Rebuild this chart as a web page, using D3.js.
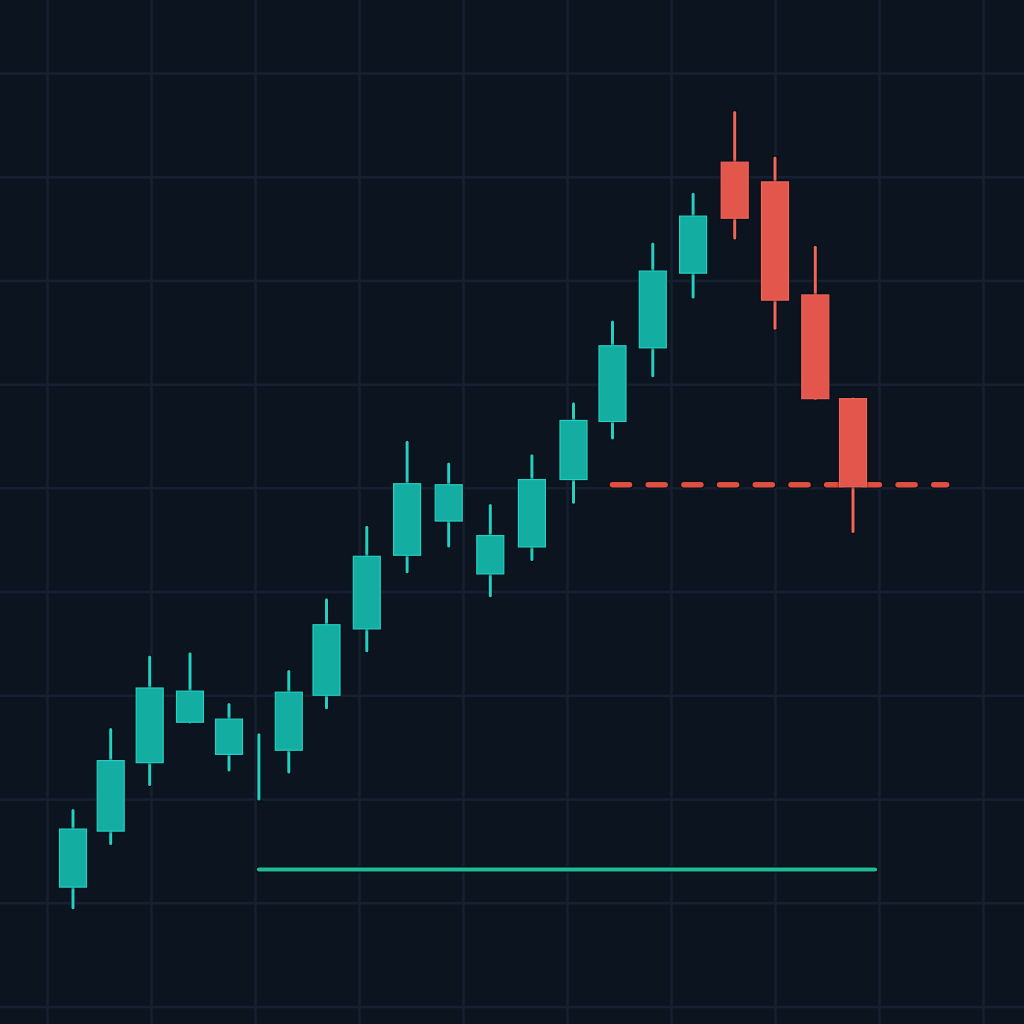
<!DOCTYPE html>
<html>
<head>
<meta charset="utf-8">
<script src="https://cdn.jsdelivr.net/npm/d3@7"></script>
<style>
  html, body { margin: 0; padding: 0; background: #0c1420; }
  svg { display: block; }
</style>
</head>
<body>
<div id="chart"></div>
<script>
// candle times (grid every 4 units) and OHLC prices
var times  = [1.0, 2.45, 3.95, 5.5, 7.0, 8.15, 9.3, 10.75, 12.3, 13.85, 15.45, 17.05, 18.65, 20.25, 21.75, 23.3, 24.85, 26.45, 28.0, 29.55, 31.0];
var opens  = [101.5, 106.9, 113.5, 117.4, 114.3, 113.1, 114.7, 120.0, 126.4, 133.5, 136.8, 131.7, 134.3, 140.8, 146.4, 153.5, 160.7, 171.4, 169.5, 158.6, 148.6];
var highs  = [108.9, 116.7, 123.7, 124.0, 119.1, 116.2, 122.3, 129.2, 136.2, 144.4, 142.3, 138.3, 143.1, 148.1, 156.0, 163.5, 168.3, 176.2, 171.8, 163.2, 148.6];
var lows   = [99.5, 105.7, 111.4, 117.4, 112.8, 110.0, 112.6, 118.8, 124.3, 131.9, 134.4, 129.6, 133.1, 138.6, 144.8, 150.8, 158.4, 164.1, 155.4, 148.6, 135.8];
var closes = [107.1, 113.7, 120.7, 120.4, 117.7, 113.1, 120.3, 126.8, 133.4, 140.4, 140.3, 135.4, 140.8, 146.5, 153.7, 160.9, 166.2, 166.0, 158.1, 148.6, 140.1];

var gridTimes  = [0, 4, 8, 12, 16, 20, 24, 28, 32, 36];
var gridPrices = [90, 100, 110, 120, 130, 140, 150, 160, 170, 180];

// support (green) and resistance (dashed red) levels
var supportLevel = {from: 8.15, to: 31.85, price: 103.2};
var resistLevel  = {from: 21.75, to: 34.6, price: 140.3};

var W = 1024, H = 1024;
var svg = d3.select("#chart").append("svg").attr("width", W).attr("height", H);

svg.append("rect").attr("width", W).attr("height", H).attr("fill", "#0c1420");

var x = d3.scaleLinear().domain([0, 36]).range([47, 983]);
var y = d3.scaleLinear().domain([90, 180]).range([1006.4, 73]);

// grid via axes
var xGrid = d3.axisBottom(x).tickValues(gridTimes).tickSizeInner(-H).tickSizeOuter(0).tickFormat("");
var yGrid = d3.axisLeft(y).tickValues(gridPrices).tickSizeInner(-W).tickSizeOuter(0).tickFormat("");

var gx = svg.append("g").attr("transform", "translate(0," + H + ")").call(xGrid);
var gy = svg.append("g").attr("transform", "translate(0,0)").call(yGrid);
[gx, gy].forEach(function(g) {
  g.select(".domain").remove();
  g.selectAll("line").attr("stroke", "#172030").attr("stroke-width", 2.5);
});

var candles = times.map(function(t, i) {
  return {t: t, o: opens[i], h: highs[i], l: lows[i], c: closes[i]};
});

var up = {fill: "#13ada1", edge: "#23d0c4"};
var down = {fill: "#e3564b", edge: "#ef665b"};
var bodyW = 27;

// resistance dashed line (under the candles)
var line = d3.line().x(function(d) { return x(d[0]); }).y(function(d) { return y(d[1]); });

svg.append("path")
  .datum([[resistLevel.from, resistLevel.price], [resistLevel.to, resistLevel.price]])
  .attr("d", line)
  .attr("fill", "none")
  .attr("stroke", "#0a0f18")
  .attr("stroke-width", 8)
  .attr("stroke-linecap", "round")
  .attr("stroke-dasharray", "17,18.7");

svg.append("path")
  .datum([[resistLevel.from, resistLevel.price], [resistLevel.to, resistLevel.price]])
  .attr("d", line)
  .attr("fill", "none")
  .attr("stroke", "#df4f3f")
  .attr("stroke-width", 5.5)
  .attr("stroke-linecap", "round")
  .attr("stroke-dasharray", "17,18.7");

// support line
svg.append("path")
  .datum([[supportLevel.from, supportLevel.price], [supportLevel.to, supportLevel.price]])
  .attr("d", line)
  .attr("fill", "none")
  .attr("stroke", "#07100f")
  .attr("stroke-width", 6.5)
  .attr("stroke-linecap", "round");

svg.append("path")
  .datum([[supportLevel.from, supportLevel.price], [supportLevel.to, supportLevel.price]])
  .attr("d", line)
  .attr("fill", "none")
  .attr("stroke", "#1fba9c")
  .attr("stroke-width", 4)
  .attr("stroke-linecap", "round");

var cg = svg.append("g").selectAll(".candle").data(candles).enter()
  .append("g").attr("class", "candle");

// dark halo behind wicks
cg.append("line")
  .attr("x1", function(d) { return x(d.t); })
  .attr("x2", function(d) { return x(d.t); })
  .attr("y1", function(d) { return y(d.h); })
  .attr("y2", function(d) { return y(d.l); })
  .attr("stroke", "#060a10")
  .attr("stroke-width", 5)
  .attr("stroke-linecap", "round");

cg.append("line")
  .attr("x1", function(d) { return x(d.t); })
  .attr("x2", function(d) { return x(d.t); })
  .attr("y1", function(d) { return y(d.h); })
  .attr("y2", function(d) { return y(d.l); })
  .attr("stroke", function(d) { return d.c >= d.o ? up.edge : down.edge; })
  .attr("stroke-width", 3)
  .attr("stroke-linecap", "round");

cg.filter(function(d) { return d.o !== d.c; })
  .append("rect")
  .attr("x", function(d) { return x(d.t) - bodyW / 2; })
  .attr("y", function(d) { return y(Math.max(d.o, d.c)); })
  .attr("width", bodyW)
  .attr("height", function(d) { return Math.abs(y(d.o) - y(d.c)); })
  .attr("fill", function(d) { return d.c >= d.o ? up.fill : down.fill; })
  .attr("stroke", function(d) { return d.c >= d.o ? up.edge : down.edge; })
  .attr("stroke-width", 1.2)
  .style("filter", "drop-shadow(0px 0px 1.2px #04070c)");
</script>
</body>
</html>
